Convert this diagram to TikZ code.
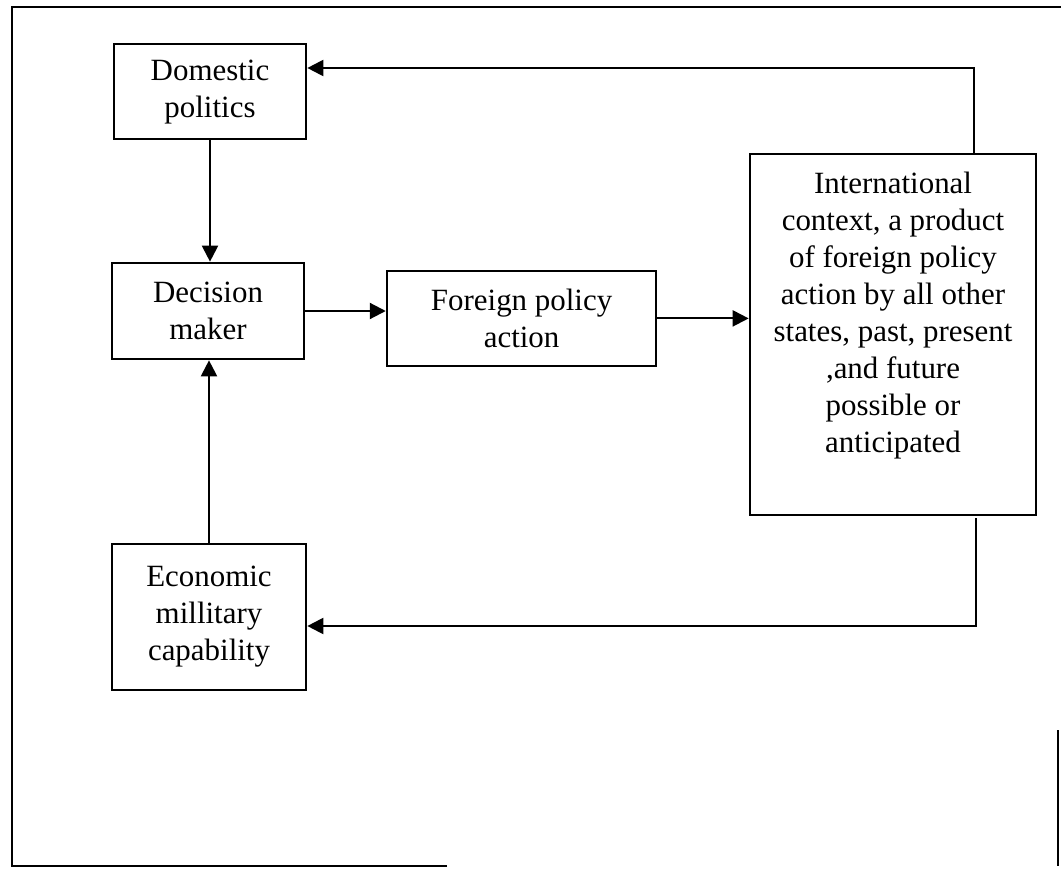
\documentclass[tikz,border=0pt]{standalone}
\usepackage{fontspec}
\setmainfont{Liberation Serif}
\usetikzlibrary{arrows.meta}

\begin{document}
\begin{tikzpicture}[
    box/.style={draw,line width=1.9pt,align=center,inner sep=0pt,font=\fontsize{22}{26.3}\selectfont},
    boxtext/.style={align=center,inner sep=0pt,font=\fontsize{22}{26.3}\selectfont},
    flow/.style={-{Triangle[length=0.4cm,width=0.4cm]},line width=1.5pt}]
            \useasboundingbox (0,0) rectangle (26.525,-21.825);
            % frame
            \draw[line width=1.4pt] (11.175,-21.65) -- (0.3,-21.65) -- (0.3,-0.175) -- (26.525,-0.175);
            \draw[line width=1.1pt] (26.45,-18.25) -- (26.45,-21.65);

            \node[box,minimum width=4.8cm,minimum height=2.375cm] (dom) at (5.25,-2.29) {Domestic\\politics};
            \node[box,minimum width=4.8cm,minimum height=2.4cm] (dec) at (5.2,-7.775) {Decision\\maker};
            \node[box,minimum width=6.725cm,minimum height=2.375cm] (fpa) at (13.04,-7.96) {Foreign policy\\action};
            \node[box,minimum width=4.85cm,minimum height=3.65cm] (eco) at (5.225,-15.425) {Economic\\millitary\\capability};

            \node[box,minimum width=7.15cm,minimum height=9.025cm] (intl) at (22.325,-8.36) {};
            \node[boxtext,anchor=north,yshift=-0.475cm] (intltext) at (intl.north) {International\\context, a product\\of foreign policy\\action by all other\\states, past, present\\,and future\\possible or\\anticipated};

            \coordinate (topturn) at (24.35,-1.7);
            \coordinate (botturn) at (24.4,-15.65);

            \draw[flow] (dom.south) -- (dom.south |- dec.north);
            \draw[flow] (eco.north) -- (eco.north |- dec.south);
            \draw[flow] (dec.east) -- (dec.east -| fpa.west);
            \draw[flow] (fpa.east) -- (fpa.east -| intl.west);
            \draw[flow] (intl.north -| topturn) |- (dom.east |- topturn);
            \draw[flow] ([yshift=-0.05cm]intl.south -| botturn) |- (eco.east |- botturn);
\end{tikzpicture}
\end{document}
